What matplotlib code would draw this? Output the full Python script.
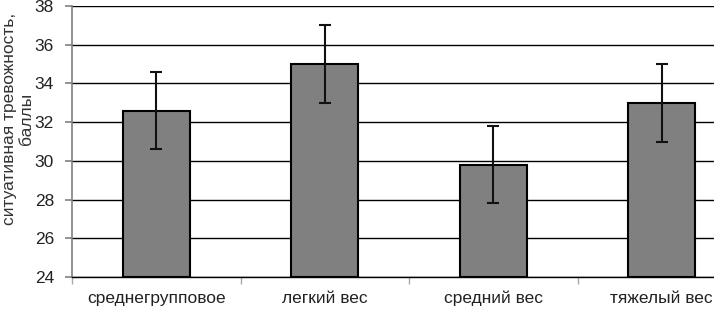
import matplotlib
matplotlib.use('Agg')
import matplotlib.pyplot as plt
import numpy as np

plt.rcParams['font.family'] = ['Liberation Sans', 'DejaVu Sans']

# data
groups = ['среднегрупповое', 'легкий вес', 'средний вес', 'тяжелый вес']
means = [32.6, 35.0, 29.8, 33.0]
errs = [2.0, 2.0, 2.0, 2.0]
yticks = [24, 26, 28, 30, 32, 34, 36, 38]

fig = plt.figure(figsize=(7.14, 3.09), dpi=100)
ax = fig.add_axes([72/714, 32/309, 642/714, 271/309])

x = np.arange(len(groups))
ax.bar(x, [m - 24 for m in means], bottom=24, width=0.40, color='#808080',
       edgecolor='black', linewidth=1.5, zorder=3)
ax.errorbar(x, means, yerr=errs, fmt='none', ecolor='#111111',
            elinewidth=1.5, capsize=4, capthick=1.5, zorder=4)

ax.set_yticks(yticks)
ax.set_ylim(24, 38)
ax.yaxis.grid(True, color='black', linewidth=1.0, zorder=0)
ax.set_axisbelow(True)

for s in ['top', 'right']:
    ax.spines[s].set_visible(False)
ax.spines['left'].set_color('#808080')
ax.spines['left'].set_linewidth(1.2)
ax.spines['bottom'].set_color('black')
ax.spines['bottom'].set_linewidth(1.0)
ax.tick_params(axis='y', direction='out', length=5, width=1.2, color='#808080',
               labelsize=12.5, labelcolor='#222222', pad=8)

ax.set_xticks(x)
ax.set_xticklabels(groups, fontsize=12.5, color='#222222')
ax.set_xticks(np.arange(len(groups) + 1) - 0.5, minor=True)
ax.tick_params(axis='x', which='major', length=0, pad=10)
ax.tick_params(axis='x', which='minor', direction='out', length=5,
               color='#aaaaaa', width=1)
# the chart is cut at the right edge, part of the last category is hidden
ax.set_xlim(-0.5, -0.5 + 642/168.5)

ax.set_ylabel('ситуативная тревожность,\nбаллы', fontsize=12.5, color='#333333',
              linespacing=1.2)
ax.yaxis.set_label_coords(-0.059, 0.585)

fig.savefig('out.png', dpi=100)
